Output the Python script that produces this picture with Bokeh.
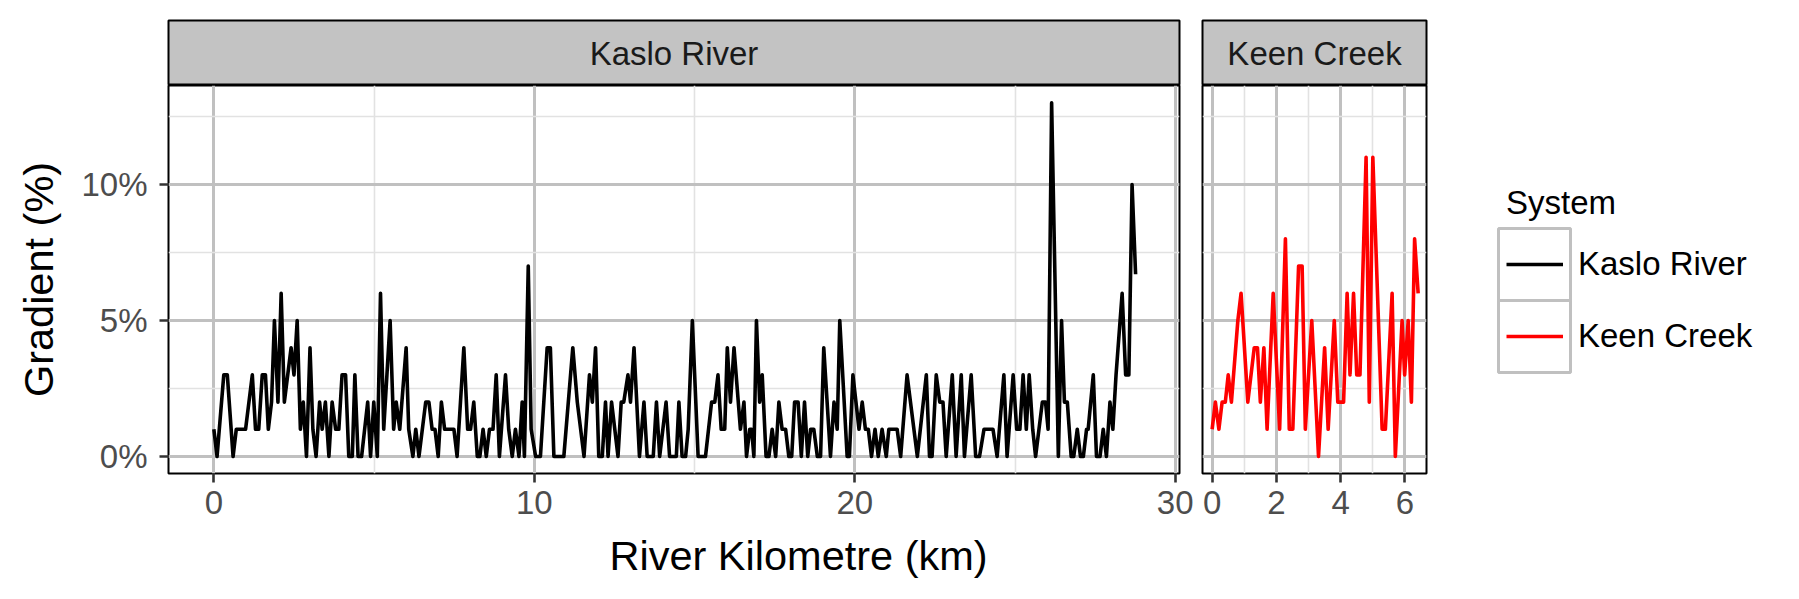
from bokeh.plotting import figure
from bokeh.models import (Range1d, FixedTicker, Title, Label, Legend, LegendItem,
                          BoxAnnotation, ColumnDataSource)
from bokeh.layouts import row, column
from bokeh.embed import file_html
from bokeh.resources import INLINE

# ---------------- data ----------------
systems = ["Kaslo River", "Keen Creek"]
system_colors = ["#000000", "#FF0000"]

kaslo_km = [
    0.00, 0.10, 0.31, 0.42, 0.60, 0.70, 0.99, 1.20, 1.30, 1.40,
    1.51, 1.61, 1.70, 1.80, 1.89, 2.00, 2.10, 2.20, 2.41, 2.50,
    2.60, 2.70, 2.79, 2.89, 3.00, 3.09, 3.19, 3.30, 3.38, 3.48,
    3.59, 3.69, 3.80, 3.90, 4.00, 4.11, 4.21, 4.32, 4.40, 4.50, 4.61,
    4.80, 4.89, 4.99, 5.10, 5.20, 5.30, 5.50, 5.61, 5.69, 5.80,
    6.00, 6.08, 6.21, 6.30, 6.40, 6.61, 6.71, 6.81, 6.90, 7.00,
    7.10, 7.20, 7.49, 7.59, 7.80, 7.92, 8.01, 8.11, 8.22, 8.30,
    8.40, 8.50, 8.60, 8.71, 8.81, 8.91, 9.10, 9.20, 9.31, 9.41, 9.52, 9.62,
    9.69, 9.81, 9.90, 10.04, 10.19, 10.40, 10.50, 10.61, 10.92, 11.20,
    11.34, 11.55, 11.72, 11.81, 11.91, 12.01, 12.12, 12.22, 12.30, 12.41,
    12.61, 12.71, 12.79, 12.92, 13.00, 13.11, 13.28, 13.42, 13.52, 13.71,
    13.81, 13.91, 14.11, 14.22, 14.43, 14.51, 14.61,
    14.72, 14.80, 14.93, 15.11, 15.34, 15.53, 15.63, 15.73, 15.83, 15.94,
    16.02, 16.12, 16.23, 16.43, 16.54, 16.62, 16.72, 16.78, 16.85, 16.93,
    17.03, 17.11, 17.23, 17.32, 17.42, 17.53, 17.63, 17.73, 17.84, 17.94,
    18.03, 18.12, 18.23, 18.33, 18.43, 18.53, 18.62, 18.72, 18.83, 18.93,
    19.03, 19.24, 19.35, 19.45, 19.53,
    19.76, 19.83, 19.94, 20.13, 20.23, 20.33, 20.42, 20.52, 20.63, 20.73,
    20.85, 20.98, 21.06, 21.32, 21.43, 21.63, 21.95, 22.23, 22.33, 22.41,
    22.54, 22.65, 22.75, 22.85, 23.04, 23.16, 23.32, 23.42, 23.63, 23.77,
    23.89, 24.03, 24.31, 24.44, 24.65,
    24.75, 24.94, 25.05, 25.15, 25.25, 25.35, 25.44, 25.55, 25.64, 25.85,
    25.95, 26.03, 26.14, 26.35, 26.45, 26.54, 26.63, 26.75, 26.83, 26.94,
    27.04, 27.13, 27.23, 27.28, 27.44, 27.54, 27.65, 27.75, 27.85, 27.96,
    28.05, 28.15, 28.34, 28.45, 28.55, 28.65, 28.76,
]
kaslo_grad = [
    1, 0, 3, 3, 0, 1, 1, 3, 1, 1,
    3, 3, 1, 2, 5, 2, 6, 2, 4, 3,
    5, 1, 2, 0, 4, 1, 0, 2, 1, 2,
    0, 2, 1, 1, 3, 3, 0, 0, 3, 0, 0,
    2, 0, 2, 0, 6, 1, 5, 1, 2, 1,
    4, 1, 0, 1, 0, 2, 2, 1, 1, 0,
    2, 1, 1, 0, 4, 1, 1, 2, 0, 0,
    1, 0, 1, 1, 3, 0, 3, 1, 0, 1, 0, 2,
    0, 7, 1, 0, 0, 4, 4, 0, 0, 4,
    2, 0, 3, 2, 4, 0, 0, 2, 0, 2,
    0, 2, 2, 3, 2, 4, 0, 2, 0, 0,
    2, 0, 2, 0, 0, 2, 0,
    0, 1, 5, 0, 0, 2, 2, 3, 1, 1,
    4, 2, 4, 1, 2, 0, 1, 1, 0, 5,
    2, 3, 0, 0, 1, 0, 2, 1, 1, 0,
    0, 2, 2, 0, 2, 0, 1, 1, 0, 0,
    4, 0, 2, 1, 5,
    0, 0, 3, 1, 2, 1, 1, 0, 1, 0,
    1, 0, 1, 1, 0, 3, 0, 3, 0, 0,
    3, 2, 2, 0, 3, 0, 3, 0, 3, 0,
    0, 1, 1, 0, 3,
    0, 3, 1, 1, 3, 1, 3, 1, 0, 2,
    2, 1, 13, 0, 5, 2, 2, 0, 0, 1,
    0, 0, 1, 1, 3, 0, 0, 1, 0, 2,
    1, 3, 6, 3, 3, 10, 6.7,
]

keen_km = [
    0.00, 0.10, 0.21, 0.31, 0.41, 0.50, 0.60, 0.80, 0.90, 1.11,
    1.31, 1.41, 1.50, 1.61, 1.71, 1.90, 2.10, 2.28, 2.40, 2.51,
    2.69, 2.80, 2.90, 3.10, 3.31, 3.50, 3.61, 3.80, 3.91, 4.09,
    4.20, 4.29, 4.40, 4.50, 4.60, 4.79, 4.89, 5.00, 5.29, 5.39,
    5.60, 5.70, 5.91, 5.99, 6.10, 6.20, 6.30, 6.41,
]
keen_grad = [
    1, 2, 1, 2, 2, 3, 2, 5, 6, 2,
    4, 4, 2, 4, 1, 6, 1, 8, 1, 1,
    7, 7, 1, 5, 0, 4, 1, 5, 2, 2,
    6, 3, 6, 3, 3, 11, 2, 11, 1, 1,
    6, 0, 5, 3, 5, 2, 8, 6,
]

y_ticks = [0, 5, 10]
y_minor = [2.5, 7.5, 12.5]
y_tick_labels = ["0%", "5%", "10%"]
kaslo_x_ticks = [0, 10, 20, 30]
kaslo_x_minor = [5, 15, 25]
keen_x_ticks = [0, 2, 4, 6]
keen_x_minor = [1, 3, 5]

# ---------------- styling ----------------
FONT = "Liberation Sans"
TICK_FS = "33px"
TITLE_FS = "41.5px"
STRIP_FILL = "#C3C3C3"
GRID_MAJOR = "#C0C0C0"
GRID_MINOR = "#E2E2E2"
LINE_W = 3.6

Y_RANGE = (-0.625, 13.64)
FRAME_H = 388
STRIP_H = 65
TOP_PAD = 20
BOTTOM_PAD = 126


def style_panel(p, xticks, xminor):
    p.outline_line_color = "black"
    p.outline_line_width = 2
    p.background_fill_color = "white"
    p.border_fill_color = "white"
    for g in p.xgrid:
        g.ticker = FixedTicker(ticks=xticks, minor_ticks=xminor)
    for g in p.ygrid:
        g.ticker = FixedTicker(ticks=y_ticks, minor_ticks=y_minor)
    p.grid.grid_line_color = GRID_MAJOR
    p.grid.grid_line_width = 3
    p.grid.minor_grid_line_color = GRID_MINOR
    p.grid.minor_grid_line_width = 1.6
    ax = p.xaxis[0]
    ax.ticker = FixedTicker(ticks=xticks, minor_ticks=xminor)
    ax.axis_line_color = None
    ax.major_tick_line_color = "#333333"
    ax.major_tick_line_width = 2.6
    ax.major_tick_out = 9
    ax.major_tick_in = 0
    ax.minor_tick_line_color = None
    ax.major_label_text_font = FONT
    ax.major_label_text_font_size = TICK_FS
    ax.major_label_text_color = "#4D4D4D"
    ax.major_label_standoff = 8


def make_strip(text, left, frame_w, right):
    s = figure(width=left + frame_w + right, height=TOP_PAD + STRIP_H,
               x_range=Range1d(0, 1), y_range=Range1d(0, 1),
               x_axis_location=None, y_axis_location=None,
               min_border_left=left, min_border_right=right,
               min_border_top=TOP_PAD, min_border_bottom=0,
               toolbar_location=None, output_backend="svg")
    s.grid.visible = False
    s.background_fill_color = STRIP_FILL
    s.border_fill_color = "white"
    s.outline_line_color = "black"
    s.outline_line_width = 2
    s.add_layout(Label(x=0.5, y=0.5, text=text, text_align="center",
                       text_baseline="middle", text_font=FONT,
                       text_font_size=TICK_FS, text_color="#1A1A1A"))
    return s


# ---------------- Kaslo panel ----------------
L1, W1, R1 = 168, 1011, 14
p1 = figure(width=L1 + W1 + R1, height=FRAME_H + BOTTOM_PAD,
            x_range=Range1d(-1.415, 30.13), y_range=Range1d(*Y_RANGE),
            min_border_left=L1, min_border_right=R1,
            min_border_top=0, min_border_bottom=BOTTOM_PAD,
            toolbar_location=None, output_backend="svg")
style_panel(p1, kaslo_x_ticks, kaslo_x_minor)
yax = p1.yaxis[0]
yax.ticker = FixedTicker(ticks=y_ticks, minor_ticks=y_minor)
yax.major_label_overrides = {t: lab for t, lab in zip(y_ticks, y_tick_labels)}
yax.axis_line_color = None
yax.major_tick_line_color = "#333333"
yax.major_tick_line_width = 2.6
yax.major_tick_out = 9
yax.major_tick_in = 0
yax.minor_tick_line_color = None
yax.major_label_text_font = FONT
yax.major_label_text_font_size = TICK_FS
yax.major_label_text_color = "#4D4D4D"
yax.major_label_standoff = 12
yax.axis_label = "Gradient (%)"
yax.axis_label_text_font = FONT
yax.axis_label_text_font_size = TITLE_FS
yax.axis_label_text_font_style = "normal"
yax.axis_label_text_color = "black"
yax.axis_label_standoff = 16

src1 = ColumnDataSource(dict(km=kaslo_km, grad=kaslo_grad))
p1.line("km", "grad", source=src1, line_color=system_colors[0],
        line_width=LINE_W, line_join="round")

p1.add_layout(Title(text="River Kilometre (km)", align="left", offset=441,
                    vertical_align="top",
                    text_font=FONT, text_font_size=TITLE_FS,
                    text_font_style="normal", text_color="black",
                    standoff=30), "below")

# ---------------- Keen panel ----------------
L2, W2, R2 = 9, 224, 14
p2 = figure(width=L2 + W2 + R2, height=FRAME_H + BOTTOM_PAD,
            x_range=Range1d(-0.30, 6.67), y_range=Range1d(*Y_RANGE),
            y_axis_location=None,
            min_border_left=L2, min_border_right=R2,
            min_border_top=0, min_border_bottom=BOTTOM_PAD,
            toolbar_location=None, output_backend="svg")
style_panel(p2, keen_x_ticks, keen_x_minor)
for g in p2.ygrid:
    if g.axis is not None:
        g.axis.ticker = FixedTicker(ticks=y_ticks, minor_ticks=y_minor)

src2 = ColumnDataSource(dict(km=keen_km, grad=keen_grad))
p2.line("km", "grad", source=src2, line_color=system_colors[1],
        line_width=LINE_W, line_join="round")

# ---------------- strips ----------------
s1 = make_strip(systems[0], L1, W1, R1)
s2 = make_strip(systems[1], L2, W2, R2)

# ---------------- legend ----------------
LG_W, LG_H = 359, 599
lg = figure(width=LG_W, height=LG_H, x_range=Range1d(0, LG_W), y_range=Range1d(0, LG_H),
            x_axis_location=None, y_axis_location=None,
            min_border_left=0, min_border_right=0, min_border_top=0, min_border_bottom=0,
            toolbar_location=None, output_backend="svg")
lg.grid.visible = False
lg.outline_line_color = None
lg.background_fill_color = "white"
lg.border_fill_color = "white"

KEY = 72
key_left = 58
key_bottom = LG_H - 372
for i in range(len(systems)):
    lg.add_layout(BoxAnnotation(left=key_left, right=key_left + KEY,
                                bottom=key_bottom + i * KEY, top=key_bottom + (i + 1) * KEY,
                                fill_alpha=0, line_color=GRID_MAJOR, line_alpha=1,
                                line_width=3))

items = []
for name, col, src in zip(systems, system_colors, [src1, src2]):
    # renderer kept hidden: it only supplies the legend key glyph
    r = lg.line("km", "grad", source=src, line_color=col, line_width=LINE_W, visible=False)
    items.append(LegendItem(label=name, renderers=[r]))

legend = Legend(items=items, location=(key_left + 8, key_bottom),
                title="System", title_text_font=FONT, title_text_font_size=TICK_FS,
                title_text_font_style="normal", title_text_color="black",
                title_standoff=6,
                label_text_font=FONT, label_text_font_size=TICK_FS,
                label_text_color="black", label_standoff=15,
                glyph_width=57, glyph_height=KEY, spacing=0, padding=0, margin=0,
                border_line_color=None, background_fill_alpha=0)
lg.add_layout(legend, "center")

layout = row(column(s1, p1), column(s2, p2), lg)

open("out.html", "w").write(file_html(layout, INLINE))
